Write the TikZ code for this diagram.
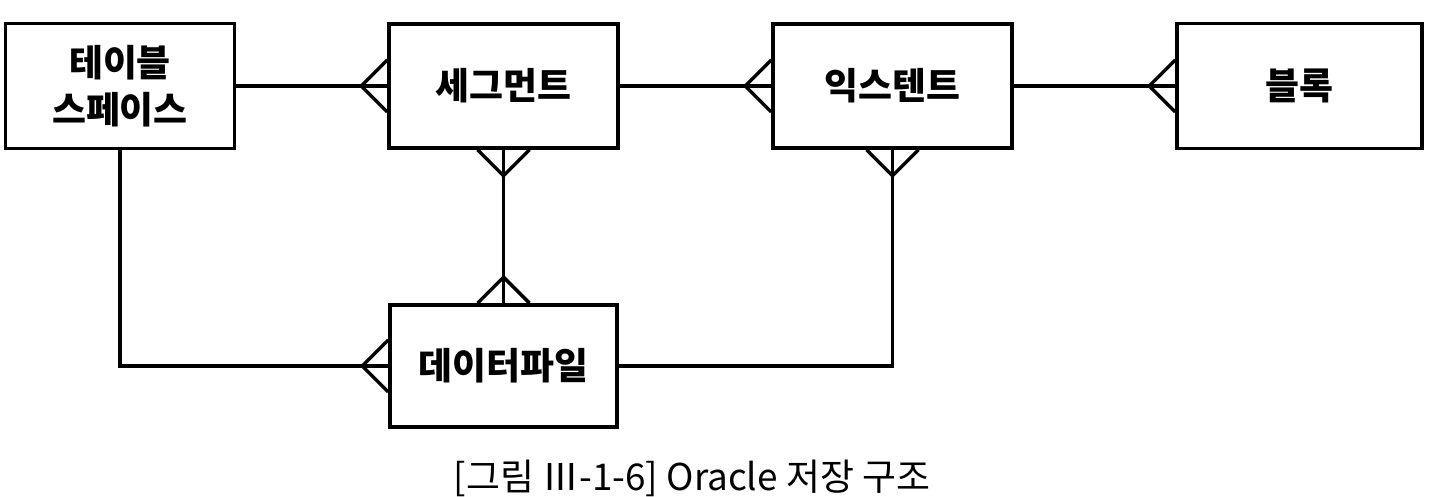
\documentclass[tikz,border=0pt]{standalone}
\usepackage{fontspec}
\newfontfamily\cjk{Noto Sans CJK KR}
\usetikzlibrary{calc}

\tikzset{
    entity/.style={draw, line width=2pt, inner sep=0pt, align=center,
        font=\cjk\bfseries\fontsize{21}{27}\selectfont},
    link/.style={line width=2pt},
    crowfoot/.pic={\draw[link] (-0.52,0) -- (0,0.52) (-0.52,0) -- (0,-0.52);}
}

\begin{document}
\begin{tikzpicture}[]
    \useasboundingbox (0,0) rectangle (28.62,-9.94);
    \node[entity, minimum width=4.58cm, minimum height=2.5cm] (tspace) at (2.4,-1.72) {테이블\\스페이스};
    \node[entity, minimum width=4.58cm, minimum height=2.48cm] (segment) at (10.07,-1.72) {세그먼트};
    \node[entity, minimum width=4.78cm, minimum height=2.48cm] (extent) at (17.85,-1.72) {익스텐트};
    \node[entity, minimum width=4.9cm, minimum height=2.5cm] (block) at (25.99,-1.72) {블록};
    \node[entity, minimum width=4.54cm, minimum height=2.44cm] (datafile) at (10.07,-7.32) {데이터파일};
    \draw[link] (tspace.east) -- (segment.west);
    \draw[link] (segment.east) -- (extent.west);
    \draw[link] (extent.east) -- (block.west);
    \draw[link] (segment.south) -- (datafile.north);
    \draw[link] (tspace.south) |- (datafile.west);
    \draw[link] (extent.south) |- (datafile.east);
    % many ends
    \pic at (segment.west) {crowfoot};
    \pic at (extent.west) {crowfoot};
    \pic at (block.west) {crowfoot};
    \pic at (datafile.west) {crowfoot};
    \pic[rotate=90] at (segment.south) {crowfoot};
    \pic[rotate=90] at (extent.south) {crowfoot};
    \pic[rotate=-90] at (datafile.north) {crowfoot};
    \node[font=\cjk\fontsize{21}{27}\selectfont] (caption) at (13.84,-9.56) {[그림 Ⅲ-1-6] Oracle 저장 구조};
\end{tikzpicture}
\end{document}
